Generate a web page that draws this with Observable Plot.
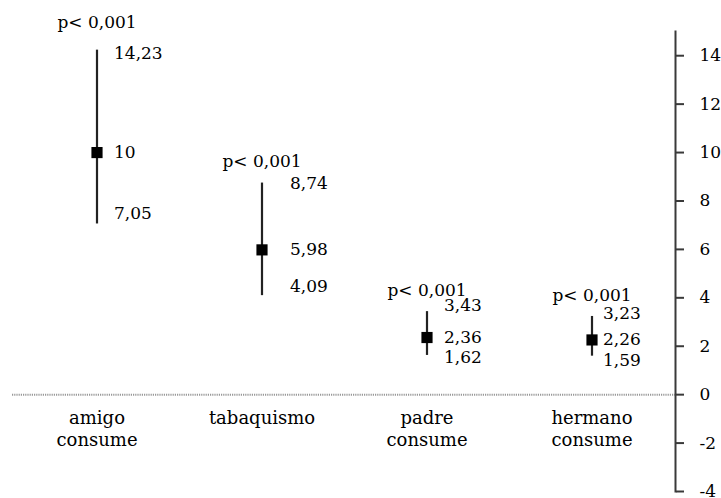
<!DOCTYPE html>
<html>
<head>
<meta charset="utf-8">
<script src="https://cdn.jsdelivr.net/npm/d3@7"></script>
<script src="https://cdn.jsdelivr.net/npm/@observablehq/plot@0.6"></script>
<style>
  html, body { margin: 0; padding: 0; background: #fff; }
  #chart svg { display: block; }
</style>
</head>
<body>
<div id="chart"></div>
<script>
const categories = ["amigo consume", "tabaquismo", "padre consume", "hermano consume"];
const categoryLabels = ["amigo\nconsume", "tabaquismo", "padre\nconsume", "hermano\nconsume"];
const estimate = [10, 5.98, 2.36, 2.26];
const lower = [7.05, 4.09, 1.62, 1.59];
const upper = [14.23, 8.74, 3.43, 3.23];
const pValues = ["p< 0,001", "p< 0,001", "p< 0,001", "p< 0,001"];
const yTicks = [-4, -2, 0, 2, 4, 6, 8, 10, 12, 14];

const data = categories.map((c, i) => ({
  cat: c, label: categoryLabels[i], est: estimate[i], lo: lower[i], hi: upper[i], p: pValues[i]
}));
const fmt = v => String(v).replace(".", ",");

// label placement (style only)
const labelOffset = {
  "amigo consume":   {dx: 17, hiDy: 3,  loDy: -10, pDy: -28},
  "tabaquismo":      {dx: 28, hiDy: 0,  loDy: -9,  pDy: -22},
  "padre consume":   {dx: 17, hiDy: -6, loDy: 2,   pDy: -21},
  "hermano consume": {dx: 11, hiDy: -3, loDy: 4,   pDy: -21}
};

const font = "DejaVu Serif";
const fs = 17;

const valueMarks = categories.flatMap(c => {
  const o = labelOffset[c];
  const rows = data.filter(d => d.cat === c);
  return [
    Plot.text(rows, {x: "cat", y: "hi", text: d => fmt(d.hi), dx: o.dx, dy: o.hiDy, textAnchor: "start", fill: "#000", fontSize: fs}),
    Plot.text(rows, {x: "cat", y: "est", text: d => fmt(d.est), dx: o.dx, textAnchor: "start", fill: "#000", fontSize: fs}),
    Plot.text(rows, {x: "cat", y: "lo", text: d => fmt(d.lo), dx: o.dx, dy: o.loDy, textAnchor: "start", fill: "#000", fontSize: fs}),
    Plot.text(rows, {x: "cat", y: "hi", text: "p", dy: o.pDy, textAnchor: "middle", fill: "#000", fontSize: fs})
  ];
});

const chart = Plot.plot({
  width: 721,
  height: 498,
  marginLeft: 12,
  marginRight: 46,
  marginTop: 31,
  marginBottom: 7,
  style: {fontFamily: font, fontSize: fs + "px", color: "#000", background: "#fff"},
  x: {type: "band", domain: categories, padding: 0, axis: null},
  y: {domain: [-4, 15], axis: null},
  marks: [
    Plot.ruleY([0], {stroke: "#999", strokeWidth: 2, strokeDasharray: "1.2,1"}),
    Plot.frame({anchor: "right", stroke: "#3a3a3a", strokeWidth: 2}),
    Plot.axisY(yTicks, {anchor: "right", tickSize: 8, tickPadding: 16, stroke: "#3a3a3a", strokeWidth: 2, tickFormat: d => String(d), fill: "#000", fontSize: fs, textAnchor: "start"}),
    Plot.ruleX(data, {x: "cat", y1: "lo", y2: "hi", stroke: "#222", strokeWidth: 2.2}),
    Plot.dot(data, {x: "cat", y: "est", symbol: "square", r: 6.3, fill: "#000", stroke: null}),
    ...valueMarks,
    Plot.text(data, {x: "cat", y: 0, text: "label", lineAnchor: "top", dy: 13, lineHeight: 1.25, fill: "#000", fontSize: 18, textAnchor: "middle"})
  ]
});
document.getElementById("chart").appendChild(chart);
</script>
</body>
</html>
